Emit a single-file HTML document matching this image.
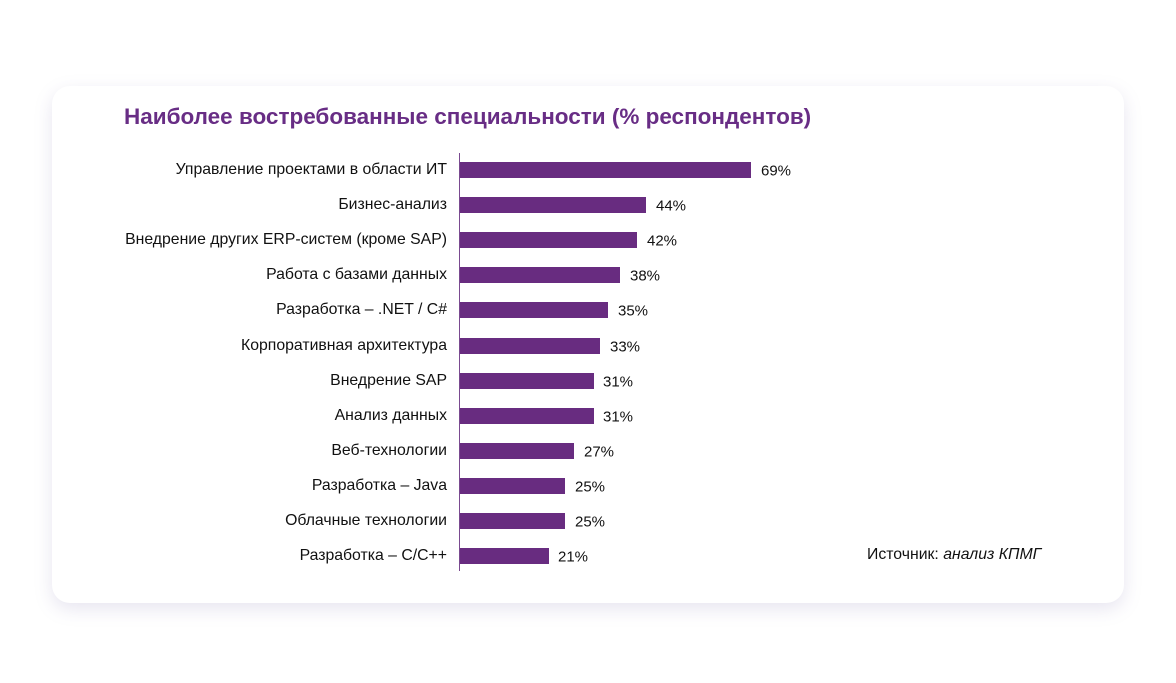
<!DOCTYPE html>
<html><head><meta charset="utf-8"><style>
body{margin:0;width:1176px;height:683px;background:#fff;position:relative;overflow:hidden;font-family:"Liberation Sans",sans-serif}
.card{position:absolute;left:52px;top:86px;width:1072px;height:517px;background:#fff;border-radius:18px;box-shadow:0 6px 18px rgba(120,110,170,0.18)}
.t{position:absolute;left:124px;top:104px;font-size:22.5px;font-weight:bold;color:#682d85;white-space:nowrap}
.axis{position:absolute;left:459px;top:153px;width:1px;height:418px;background:#7a4a90}
.l{position:absolute;right:729px;font-size:15.8px;color:#111;white-space:nowrap;transform:translateY(-50%)}
.b{position:absolute;left:460px;height:16px;background:#682c80;transform:translateY(-50%)}
.v{position:absolute;font-size:15px;color:#111;transform:translateY(-50%)}
.src{position:absolute;left:867px;top:546px;font-size:15.8px;color:#111}
</style></head><body>
<div class="card"></div>
<div class="t">Наиболее востребованные специальности (% респондентов)</div>
<div class="axis"></div>
<div class="l" style="top:170px">Управление проектами в области ИТ</div><div class="b" style="top:170px;width:291px"></div><div class="v" style="top:171px;left:761px">69%</div>
<div class="l" style="top:205px">Бизнес-анализ</div><div class="b" style="top:205px;width:186px"></div><div class="v" style="top:206px;left:656px">44%</div>
<div class="l" style="top:240px">Внедрение других ERP-систем (кроме SAP)</div><div class="b" style="top:240px;width:177px"></div><div class="v" style="top:241px;left:647px">42%</div>
<div class="l" style="top:275px">Работа с базами данных</div><div class="b" style="top:275px;width:160px"></div><div class="v" style="top:276px;left:630px">38%</div>
<div class="l" style="top:310px">Разработка – .NET / C#</div><div class="b" style="top:310px;width:148px"></div><div class="v" style="top:311px;left:618px">35%</div>
<div class="l" style="top:346px">Корпоративная архитектура</div><div class="b" style="top:346px;width:140px"></div><div class="v" style="top:347px;left:610px">33%</div>
<div class="l" style="top:381px">Внедрение SAP</div><div class="b" style="top:381px;width:134px"></div><div class="v" style="top:382px;left:603px">31%</div>
<div class="l" style="top:416px">Анализ данных</div><div class="b" style="top:416px;width:134px"></div><div class="v" style="top:417px;left:603px">31%</div>
<div class="l" style="top:451px">Веб-технологии</div><div class="b" style="top:451px;width:114px"></div><div class="v" style="top:452px;left:584px">27%</div>
<div class="l" style="top:486px">Разработка – Java</div><div class="b" style="top:486px;width:105px"></div><div class="v" style="top:487px;left:575px">25%</div>
<div class="l" style="top:521px">Облачные технологии</div><div class="b" style="top:521px;width:105px"></div><div class="v" style="top:522px;left:575px">25%</div>
<div class="l" style="top:556px">Разработка – C/C++</div><div class="b" style="top:556px;width:89px"></div><div class="v" style="top:557px;left:558px">21%</div>
<div class="src">Источник: <i>анализ КПМГ</i></div>
</body></html>
